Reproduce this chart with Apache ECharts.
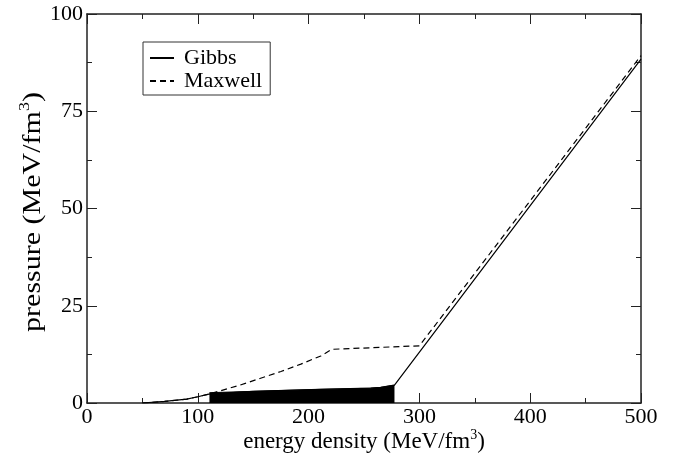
<!DOCTYPE html>
<html>
<head>
<meta charset="utf-8">
<script src="https://cdn.jsdelivr.net/npm/echarts@6/dist/echarts.min.js"></script>
<style>
  html, body { margin: 0; padding: 0; background: #fff; }
  #chart { width: 673px; height: 462px; }
</style>
</head>
<body>
<div id="chart"></div>
<script>
// Equation of state: pressure vs energy density (MeV/fm^3)
const gibbsE = [50, 70, 90, 100, 110, 150, 210, 256, 265, 277.5, 500];
const gibbsP = [0, 0.4, 1.0, 1.6, 2.3, 3.0, 3.5, 3.8, 4.0, 4.6, 88.4];

// mixed-phase band of the Gibbs construction (filled down to zero)
const mixedE = [110.5, 150, 210, 256, 265, 277.5];
const mixedP = [2.65, 3.0, 3.5, 3.8, 4.0, 4.6];

const maxwellE = [50, 70, 90, 100, 110, 120, 138, 156, 175, 193, 211, 221, 300, 500];
const maxwellP = [0, 0.4, 1.0, 1.6, 2.3, 3.1, 4.6, 6.3, 8.1, 10.0, 12.1, 13.8, 14.7, 89.3];

const xTicks = [0, 100, 200, 300, 400, 500];
const yTicks = [0, 25, 50, 75, 100];

const pairs = (xs, ys) => xs.map((x, i) => [x, ys[i]]);

const FONT = '"Liberation Serif", "DejaVu Serif", serif';
const axisCol = '#222';

function baseAxis(extra) {
  return Object.assign({
    type: 'value',
    axisLine: { show: true, onZero: false, lineStyle: { color: axisCol, width: 1.5 } },
    axisTick: { show: true, inside: true, length: 10, lineStyle: { color: axisCol, width: 1 } },
    minorTick: { show: true, splitNumber: 2, length: 5, lineStyle: { color: axisCol, width: 1 } },
    splitLine: { show: false },
    axisLabel: { color: '#000', fontFamily: FONT, fontSize: 22 }
  }, extra);
}

const richX = {
  n: { fontFamily: FONT, fontSize: 23, color: '#000' },
  sup: { fontFamily: FONT, fontSize: 14, color: '#000', padding: [0, 0, 14, 0] }
};
const richY = {
  n: { fontFamily: FONT, fontSize: 25, color: '#000' },
  sup: { fontFamily: FONT, fontSize: 15, color: '#000', padding: [0, 0, 15, 0] }
};

const chart = echarts.init(document.getElementById('chart'), null, { renderer: 'canvas' });

chart.setOption({
  animation: false,
  backgroundColor: '#fff',
  grid: { left: 87, right: 32, top: 14, bottom: 59 },
  legend: {
    orient: 'vertical',
    left: 143,
    top: 42,
    data: ['Gibbs', 'Maxwell'],
    borderColor: '#333',
    borderWidth: 1,
    borderRadius: 0,
    padding: [5, 8, 3, 6],
    itemGap: 1,
    itemWidth: 24,
    itemHeight: 14,
    itemStyle: { color: 'rgba(0,0,0,0)', borderColor: 'rgba(0,0,0,0)', borderWidth: 0, opacity: 0 },
    textStyle: { fontFamily: FONT, fontSize: 22, lineHeight: 20, color: '#000', padding: [0, 0, 0, 5] }
  },
  graphic: [
    {
      type: 'text',
      x: 33,
      y: 212,
      rotation: Math.PI / 2,
      scaleX: 1.2,
      silent: true,
      style: {
        text: '{n|pressure (MeV/fm}{sup|3}{n|)}',
        rich: richY,
        align: 'center',
        verticalAlign: 'middle'
      }
    }
  ],
  xAxis: [
    baseAxis({
      min: xTicks[0], max: xTicks[xTicks.length - 1], interval: 100,
      position: 'bottom',
      axisLabel: { color: '#000', fontFamily: FONT, fontSize: 22, margin: 3 },
      name: '{n|energy density (MeV/fm}{sup|3}{n|)}',
      nameLocation: 'middle',
      nameGap: 25,
      nameMoveOverlap: false,
      nameTextStyle: { rich: richX }
    }),
    baseAxis({
      min: xTicks[0], max: xTicks[xTicks.length - 1], interval: 100,
      position: 'top',
      axisLabel: { show: false }
    })
  ],
  yAxis: [
    baseAxis({
      min: yTicks[0], max: yTicks[yTicks.length - 1], interval: 25,
      position: 'left',
      axisLabel: { color: '#000', fontFamily: FONT, fontSize: 22, margin: 4 }
    }),
    baseAxis({
      min: yTicks[0], max: yTicks[yTicks.length - 1], interval: 25,
      position: 'right',
      axisLabel: { show: false }
    })
  ],
  series: [
    {
      name: 'mixed',
      type: 'line',
      data: pairs(mixedE, mixedP),
      symbol: 'none',
      lineStyle: { color: '#000', width: 1 },
      areaStyle: { color: '#000', opacity: 1, origin: 'start' },
      z: 1
    },
    {
      name: 'Gibbs',
      type: 'line',
      data: pairs(gibbsE, gibbsP),
      symbol: 'none',
      color: '#000',
      lineStyle: { color: '#000', width: 1.2, type: 'solid' },
      z: 3
    },
    {
      name: 'Maxwell',
      type: 'line',
      data: pairs(maxwellE, maxwellP),
      symbol: 'none',
      color: '#000',
      lineStyle: { color: '#000', width: 1.2, type: [6, 4] },
      z: 3
    }
  ]
});
</script>
</body>
</html>
